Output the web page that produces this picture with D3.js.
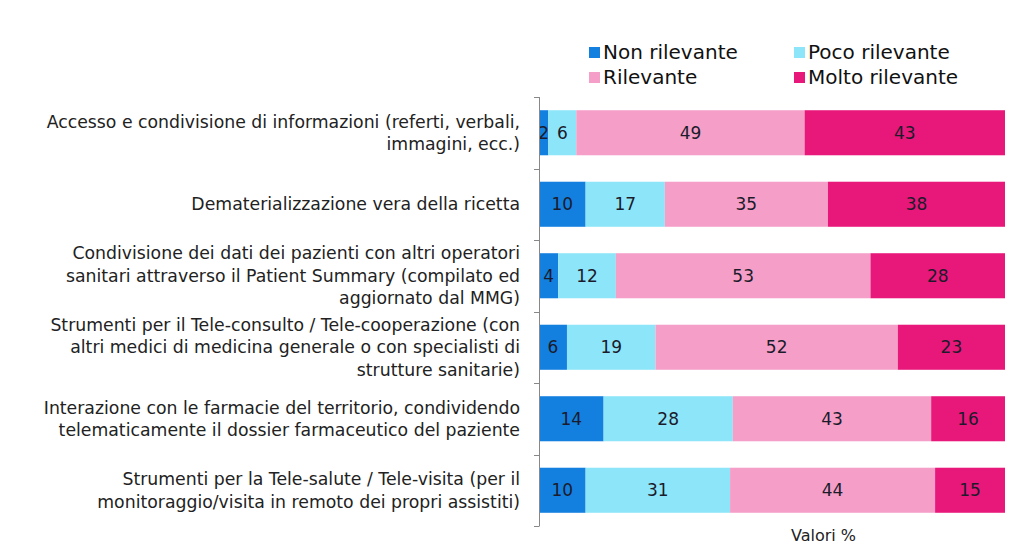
<!DOCTYPE html>
<html><head><meta charset="utf-8">
<script src="https://cdn.jsdelivr.net/npm/d3@7"></script>
<style>body{margin:0;background:#fff}svg{display:block}text{font-family:"DejaVu Sans",sans-serif}</style>
</head><body><svg id="c" width="1024" height="557"></svg>
<script>
const categories = [
  ["Accesso e condivisione di informazioni (referti, verbali,", "immagini, ecc.)"],
  ["Dematerializzazione vera della ricetta"],
  ["Condivisione dei dati dei pazienti con altri operatori", "sanitari attraverso il Patient Summary (compilato ed", "aggiornato dal MMG)"],
  ["Strumenti per il Tele-consulto / Tele-cooperazione (con", "altri medici di medicina generale o con specialisti di", "strutture sanitarie)"],
  ["Interazione con le farmacie del territorio, condividendo", "telematicamente il dossier farmaceutico del paziente"],
  ["Strumenti per la Tele-salute / Tele-visita (per il", "monitoraggio/visita in remoto dei propri assistiti)"]
];
const seriesNames = ["Non rilevante", "Poco rilevante", "Rilevante", "Molto rilevante"];
const nonRilevante   = [2, 10, 4, 6, 14, 10];
const pocoRilevante  = [6, 17, 12, 19, 28, 31];
const rilevante      = [49, 35, 53, 52, 43, 44];
const moltoRilevante = [43, 38, 28, 23, 16, 15];
const colors = ["#137fdf", "#8de5f9", "#f59fc8", "#e8177a"];
const axisTitle = "Valori %";

const svg = d3.select("#c");
const rows = categories.map((c, i) => ({i, vals: [nonRilevante[i], pocoRilevante[i], rilevante[i], moltoRilevante[i]]}));
const keys = [0,1,2,3];
const stack = d3.stack().keys(keys).value((d,k)=>d.vals[k]).offset(d3.stackOffsetExpand);
const stacked = stack(rows);

const x = d3.scaleLinear().domain([0,1]).range([539, 1005]);
const y = d3.scaleBand().domain(d3.range(categories.length)).range([97, 526]).paddingInner(0.37).paddingOuter(0.185);

// bars
stacked.forEach((layer, k) => {
  svg.append("g").selectAll("rect").data(layer).join("rect")
    .attr("x", d => x(d[0])).attr("width", d => x(d[1]) - x(d[0]))
    .attr("y", (d,i) => y(i)).attr("height", y.bandwidth())
    .attr("fill", colors[k]);
  svg.append("g").selectAll("text").data(layer).join("text")
    .attr("x", d => (x(d[0]) + x(d[1]))/2)
    .attr("y", (d,i) => y(i) + y.bandwidth()/2)
    .attr("dy", "0.35em").attr("text-anchor","middle")
    .attr("font-size", 17).attr("fill", "#1b1b2b")
    .text((d,i) => rows[i].vals[k]);
});

// axis
svg.append("line").attr("x1",539.5).attr("x2",539.5).attr("y1",97).attr("y2",526).attr("stroke","#888");
d3.range(categories.length+1).forEach(j => {
  const yy = Math.round(97 + j*(526-97)/categories.length) + 0.5;
  svg.append("line").attr("x1",534).attr("x2",539.5).attr("y1",yy).attr("y2",yy).attr("stroke","#888");
});

// category labels
categories.forEach((lines, i) => {
  const cy = y(i) + y.bandwidth()/2;
  const lh = 22.5;
  const t = svg.append("text").attr("text-anchor","end").attr("font-size",17.3).attr("fill","#222");
  lines.forEach((l, j) => {
    t.append("tspan").attr("x", 520).attr("y", cy + (j - (lines.length-1)/2)*lh).attr("dy","0.35em").text(l);
  });
});

// legend
const legPos = [[589,52],[794,52],[589,77],[794,77]];
seriesNames.forEach((n,k) => {
  const [lx,ly] = legPos[k];
  svg.append("rect").attr("x",lx).attr("y",ly-5).attr("width",11).attr("height",11).attr("fill",colors[k]);
  svg.append("text").attr("x",lx+14).attr("y",ly).attr("dy","0.35em").attr("font-size",20).attr("fill","#111").text(n);
});

svg.append("text").attr("x",791).attr("y",535).attr("dy","0.35em").attr("font-size",16).attr("fill","#222").text(axisTitle);
</script></body></html>
